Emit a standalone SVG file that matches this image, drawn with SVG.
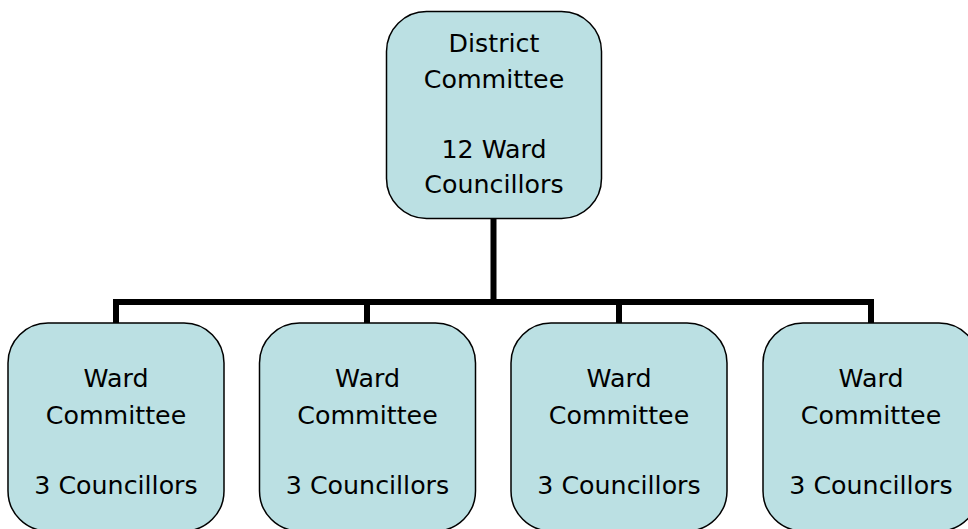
<svg xmlns="http://www.w3.org/2000/svg" width="968" height="529" viewBox="0 0 968 529">
<style>
.node{fill:#BBE0E3;stroke:#000;stroke-width:1.5}
.t{font-family:"DejaVu Sans",Verdana,sans-serif;font-size:25.3px;fill:#000;text-anchor:middle}
.c{fill:none;stroke:#000;stroke-width:6}
</style>
<rect width="968" height="529" fill="#fff"/>
<g id="connectors">
<path class="c" d="M493.5 219V302"/>
<path class="c" d="M116 323V302H871V323"/>
<path class="c" d="M367 302V323"/>
<path class="c" d="M619 302V323"/>
</g>
<g id="district">
<rect class="node" x="386.5" y="11.5" width="215" height="207" rx="40"/>
<text class="t" x="494" y="52">District</text>
<text class="t" x="494" y="88">Committee</text>
<text class="t" x="494" y="158">12 Ward</text>
<text class="t" x="494" y="193">Councillors</text>
</g>
<g id="ward1">
<rect class="node" x="8" y="323" width="216" height="208" rx="40"/>
<text class="t" x="116" y="387">Ward</text>
<text class="t" x="116" y="424">Committee</text>
<text class="t" x="116" y="494">3 Councillors</text>
</g>
<g id="ward2">
<rect class="node" x="259.5" y="323" width="216" height="208" rx="40"/>
<text class="t" x="367.5" y="387">Ward</text>
<text class="t" x="367.5" y="424">Committee</text>
<text class="t" x="367.5" y="494">3 Councillors</text>
</g>
<g id="ward3">
<rect class="node" x="511" y="323" width="216" height="208" rx="40"/>
<text class="t" x="619" y="387">Ward</text>
<text class="t" x="619" y="424">Committee</text>
<text class="t" x="619" y="494">3 Councillors</text>
</g>
<g id="ward4">
<rect class="node" x="763" y="323" width="216" height="208" rx="40"/>
<text class="t" x="871" y="387">Ward</text>
<text class="t" x="871" y="424">Committee</text>
<text class="t" x="871" y="494">3 Councillors</text>
</g>
</svg>
